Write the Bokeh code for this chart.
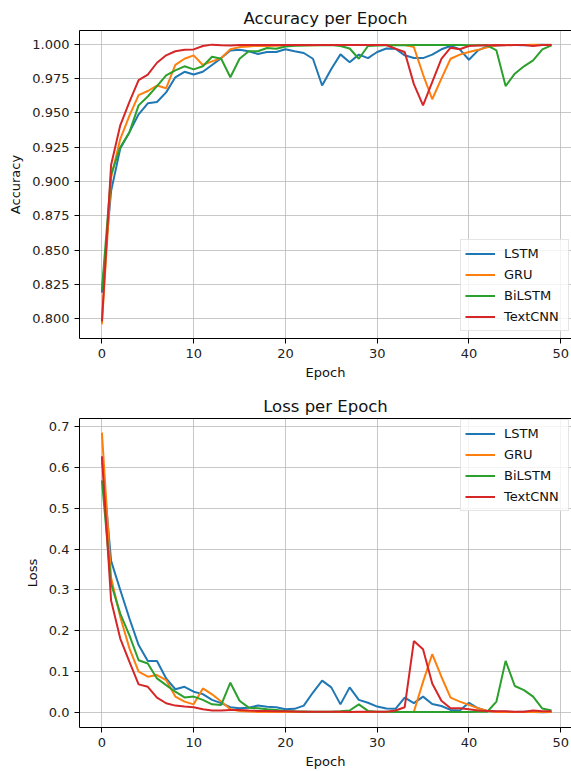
from bokeh.plotting import figure
from bokeh.models import (Range1d, LinearAxis, FixedTicker, PrintfTickFormatter,
                          Legend, LegendItem, ColumnDataSource)
from bokeh.layouts import column
from bokeh.embed import file_html
from bokeh.resources import INLINE

epochs = list(range(50))
models = ["LSTM", "GRU", "BiLSTM", "TextCNN"]
colors = ["#1f77b4", "#ff7f0e", "#2ca02c", "#d62728"]

acc_lstm = [0.819, 0.893, 0.924, 0.936, 0.949, 0.957, 0.958, 0.965, 0.976, 0.980,
            0.978, 0.980, 0.985, 0.990, 0.9956, 0.996, 0.995, 0.993, 0.9944, 0.9944,
            0.9964, 0.995, 0.9937, 0.9895, 0.970, 0.982, 0.9927, 0.987, 0.9925, 0.990,
            0.9944, 0.997, 0.9968, 0.992, 0.990, 0.990, 0.9925, 0.9964, 0.9988, 0.9964,
            0.9888, 0.9956, 0.9985, 0.9992, 0.9995, 0.9996, 0.9994, 0.9996, 0.9997, 0.9996]
acc_gru = [0.796, 0.903, 0.931, 0.948, 0.963, 0.966, 0.970, 0.968, 0.985, 0.9895,
           0.992, 0.985, 0.9876, 0.990, 0.9964, 0.998, 0.9985, 0.999, 0.9988, 0.999,
           0.9992, 0.9993, 0.9995, 0.9994, 0.9995, 0.9995, 0.9996, 0.9995, 0.9996, 0.9995,
           0.9996, 0.9995, 0.9995, 0.9995, 0.998, 0.978, 0.960, 0.975, 0.9895, 0.9925,
           0.9944, 0.996, 0.9978, 0.9993, 0.9995, 0.9996, 0.9995, 0.9997, 0.9996, 0.9998]
acc_bilstm = [0.821, 0.905, 0.925, 0.936, 0.9555, 0.962, 0.9696, 0.9774, 0.981, 0.984,
              0.9818, 0.984, 0.991, 0.9895, 0.976, 0.9895, 0.995, 0.995, 0.9973, 0.9968,
              0.9985, 0.999, 0.9992, 0.9993, 0.9994, 0.9995, 0.9988, 0.997, 0.9895, 0.9988,
              0.9992, 0.9993, 0.9994, 0.9994, 0.9995, 0.9995, 0.9996, 0.9996, 0.9996, 0.9995,
              0.9994, 0.9994, 0.9993, 0.9956, 0.9696, 0.9786, 0.984, 0.9883, 0.9964, 0.9993]
acc_textcnn = [0.798, 0.912, 0.941, 0.958, 0.974, 0.978, 0.9866, 0.992, 0.995, 0.996,
               0.9963, 0.9988, 0.9998, 0.9994, 0.9992, 0.9995, 0.9996, 0.9995, 0.9996, 0.9995,
               0.9996, 0.9995, 0.9996, 0.9996, 0.9995, 0.9996, 0.9996, 0.9995, 0.9996, 0.9996,
               0.9995, 0.9995, 0.9968, 0.9944, 0.971, 0.9555, 0.9725, 0.9895, 0.9976, 0.9964,
               0.9988, 0.9992, 0.9994, 0.9995, 0.9994, 0.9995, 0.9996, 0.9988, 0.9995, 0.9996]

loss_lstm = [0.625, 0.371, 0.30, 0.23, 0.165, 0.126, 0.126, 0.0835, 0.057, 0.063,
             0.051, 0.045, 0.031, 0.023, 0.013, 0.0105, 0.012, 0.017, 0.014, 0.013,
             0.008, 0.009, 0.017, 0.049, 0.078, 0.0616, 0.020, 0.0616, 0.031, 0.024,
             0.0146, 0.0097, 0.009, 0.0365, 0.023, 0.039, 0.021, 0.016, 0.0065, 0.005,
             0.024, 0.0105, 0.004, 0.0025, 0.002, 0.0015, 0.002, 0.0015, 0.001, 0.0012]
loss_gru = [0.685, 0.33, 0.234, 0.157, 0.10, 0.0876, 0.0916, 0.0795, 0.039, 0.0268,
            0.020, 0.059, 0.0446, 0.0268, 0.008, 0.004, 0.0025, 0.0016, 0.002, 0.0015,
            0.0015, 0.0014, 0.0013, 0.0015, 0.0014, 0.0013, 0.0012, 0.0014, 0.0012, 0.0013,
            0.0012, 0.0013, 0.0014, 0.0015, 0.002, 0.075, 0.1427, 0.0876, 0.0365, 0.0268,
            0.0187, 0.0105, 0.004, 0.0015, 0.0014, 0.0013, 0.0015, 0.0012, 0.0013, 0.0011]
loss_bilstm = [0.568, 0.315, 0.242, 0.189, 0.128, 0.12, 0.0835, 0.067, 0.051, 0.037,
               0.039, 0.031, 0.020, 0.0187, 0.073, 0.029, 0.012, 0.0105, 0.008, 0.0065,
               0.004, 0.003, 0.0025, 0.002, 0.0018, 0.002, 0.003, 0.005, 0.020, 0.004,
               0.002, 0.0018, 0.0016, 0.0015, 0.0016, 0.0015, 0.0014, 0.0015, 0.0014, 0.0015,
               0.0016, 0.0018, 0.002, 0.0268, 0.1265, 0.065, 0.055, 0.039, 0.0097, 0.005]
loss_textcnn = [0.627, 0.274, 0.181, 0.124, 0.069, 0.063, 0.0365, 0.0227, 0.017, 0.0146,
                0.013, 0.008, 0.005, 0.005, 0.0065, 0.0065, 0.005, 0.004, 0.004, 0.003,
                0.003, 0.0025, 0.002, 0.002, 0.0018, 0.002, 0.0018, 0.0016, 0.0018, 0.002,
                0.002, 0.002, 0.005, 0.013, 0.175, 0.155, 0.071, 0.029, 0.0105, 0.0105,
                0.008, 0.005, 0.004, 0.003, 0.003, 0.002, 0.002, 0.005, 0.003, 0.003]

x_ticks = [0, 10, 20, 30, 40, 50]
acc_ticks = [0.800, 0.825, 0.850, 0.875, 0.900, 0.925, 0.950, 0.975, 1.000]
loss_ticks = [0.0, 0.1, 0.2, 0.3, 0.4, 0.5, 0.6, 0.7]

FONT = "DejaVu Sans"


def make_fig(title, series, yr, yticks, yfmt, ylabel, height, top, bottom, legend_loc):
    p = figure(width=571, height=height, x_range=Range1d(-2.443, 51.18),
               y_range=Range1d(*yr), output_backend="svg", toolbar_location=None,
               min_border_left=79, min_border_right=0, min_border_top=top,
               min_border_bottom=bottom)
    p.outline_line_color = None
    p.background_fill_color = "white"
    p.title.text = title
    p.title.align = "center"
    p.title.text_font = FONT
    p.title.text_font_size = "16.5px"
    p.title.text_font_style = "normal"
    p.title.text_color = "#111111"
    p.title.standoff = 6

    for ax in (p.xaxis[0], p.yaxis[0]):
        ax.axis_line_color = "black"
        ax.axis_line_width = 1
        ax.major_tick_line_color = "black"
        ax.major_tick_out = 5
        ax.major_tick_in = 0
        ax.minor_tick_line_color = None
        ax.major_label_text_font = FONT
        ax.major_label_text_font_size = "13px"
        ax.major_label_text_color = "#222222"
        ax.axis_label_text_font = FONT
        ax.axis_label_text_font_size = "13px"
        ax.axis_label_text_font_style = "normal"
        ax.axis_label_text_color = "#111111"
    p.xaxis.ticker = FixedTicker(ticks=x_ticks)
    p.xaxis.formatter = PrintfTickFormatter(format="%d")
    p.xaxis.axis_label = "Epoch"
    p.xaxis.axis_label_standoff = 4
    p.yaxis.ticker = FixedTicker(ticks=yticks)
    p.yaxis.formatter = PrintfTickFormatter(format=yfmt)
    p.yaxis.axis_label = ylabel
    p.yaxis.axis_label_standoff = 6

    top_axis = LinearAxis(ticker=FixedTicker(ticks=[]), axis_line_color="black",
                          major_label_text_font_size="0px",
                          major_tick_line_color=None, minor_tick_line_color=None)
    p.add_layout(top_axis, "above")

    for g in (p.xgrid[0], p.ygrid[0]):
        g.grid_line_color = "#b0b0b0"
        g.grid_line_alpha = 0.7
        g.grid_line_width = 1
    p.xgrid.ticker = FixedTicker(ticks=x_ticks)
    p.ygrid.ticker = FixedTicker(ticks=yticks)

    items = []
    for name, vals, col in zip(models, series, colors):
        src = ColumnDataSource(dict(x=epochs, y=vals))
        r = p.line("x", "y", source=src, line_color=col, line_width=2)
        items.append(LegendItem(label=name, renderers=[r]))
    leg = Legend(items=items, location=legend_loc)
    leg.label_text_font = FONT
    leg.label_text_font_size = "13px"
    leg.label_text_color = "#111111"
    leg.glyph_width = 30
    leg.glyph_height = 19
    leg.label_height = 19
    leg.label_width = 60
    leg.label_standoff = 9
    leg.spacing = 2
    leg.padding = 4
    leg.margin = 0
    leg.border_line_color = "#cccccc"
    leg.border_line_width = 1
    leg.background_fill_alpha = 0.8
    p.add_layout(leg)
    return p


p1 = make_fig("Accuracy per Epoch",
              [acc_lstm, acc_gru, acc_bilstm, acc_textcnn],
              (0.7856, 1.0101), acc_ticks, "%.3f", "Accuracy",
              390, 30, 52, (381, 7))
p2 = make_fig("Loss per Epoch",
              [loss_lstm, loss_gru, loss_bilstm, loss_textcnn],
              (-0.0366, 0.7195), loss_ticks, "%.1f", "Loss",
              381, 28, 43, (381, 216))

layout = column(p1, p2, spacing=0)
open("out.html", "w").write(file_html(layout, INLINE))
